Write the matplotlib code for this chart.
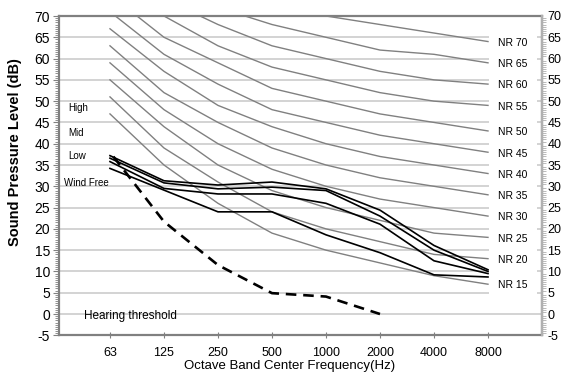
import matplotlib
matplotlib.use('Agg')
import matplotlib.pyplot as plt
import numpy as np

plt.rcParams['font.family'] = ['Liberation Sans', 'DejaVu Sans']
plt.rcParams['axes.unicode_minus'] = False

# octave bands
freqs = ['63', '125', '250', '500', '1000', '2000', '4000', '8000']

# NR reference curves (dB)
nr_labels = ['NR 15', 'NR 20', 'NR 25', 'NR 30', 'NR 35', 'NR 40',
             'NR 45', 'NR 50', 'NR 55', 'NR 60', 'NR 65', 'NR 70']
nr_curves = [
    [47, 35, 26, 19, 15, 12, 9, 7],
    [51, 39, 31, 24, 20, 17, 14, 13],
    [55, 44, 35, 29, 25, 22, 19, 18],
    [59, 48, 40, 34, 30, 27, 25, 23],
    [63, 52, 45, 39, 35, 32, 30, 28],
    [67, 57, 49, 44, 40, 37, 35, 33],
    [71, 61, 54, 48, 45, 42, 40, 38],
    [75, 65, 59, 53, 50, 47, 45, 43],
    [79, 70, 63, 58, 55, 52, 50, 49],
    [83, 74, 68, 63, 60, 57, 55, 54],
    [87, 78, 72, 68, 65, 62, 61, 59],
    [91, 83, 77, 73, 70, 68, 66, 64],
]

# measured fan speeds
high = [37.2, 31.3, 30.3, 31.0, 29.4, 24.4, 16.1, 10.4]
mid = [36.6, 30.8, 29.4, 29.8, 29.0, 23.0, 15.0, 10.0]
low = [35.8, 29.5, 28.2, 28.2, 26.0, 21.1, 12.5, 9.5]
wind_free = [34.2, 29.1, 24.0, 24.0, 18.6, 14.4, 9.2, 8.7]

# hearing threshold (63 .. 2000 Hz)
threshold = [38, 21.7, 11.5, 4.9, 4.1, 0]

x = np.arange(len(freqs))
spine_col = '#808080'

fig = plt.figure(figsize=(5.64, 3.78), dpi=100)
ax = fig.add_axes([59 / 564, 1 - 335.3 / 378, 483 / 564, 319.3 / 378])
ax.set_xlim(-0.944, 8.0)
ax.set_ylim(-5, 70)

# grid
for yv in np.arange(0, 70, 5):
    ax.axhline(yv, color='#c8c8c8', lw=1.1, zorder=0)

# NR curves + labels
for lab, vals in zip(nr_labels, nr_curves):
    ax.plot(x, vals, color='#808080', lw=1.0, zorder=2)
    ax.text(7.46, vals[-1] - 0.3, lab, fontsize=7.5, ha='center', va='center', zorder=4,
            bbox=dict(boxstyle='square,pad=0.9', fc='white', ec='none'))

for series in (high, mid, low, wind_free):
    ax.plot(x, series, color='black', lw=1.2, zorder=3)

ax.plot(x[:len(threshold)], threshold, color='black', lw=1.9,
        linestyle=(4.5, (4, 2.6)), zorder=3)

# labels in plot
ax.text(-0.78, 48.4, 'High', fontsize=7, va='center')
ax.text(-0.78, 42.5, 'Mid', fontsize=7, va='center')
ax.text(-0.78, 37.1, 'Low', fontsize=7, va='center')
ax.text(-0.85, 30.8, 'Wind Free', fontsize=7, va='center')
ax.text(-0.48, -0.5, 'Hearing threshold', fontsize=8.5, va='center')

# axes styling
ax.set_xticks(x)
ax.set_xticklabels(freqs, fontsize=9)
ax.set_yticks(np.arange(-5, 75, 5))
ax.tick_params(axis='y', labelsize=10, direction='out', length=4, color=spine_col, pad=2.5)
ax.set_yticks(np.arange(-5, 70.1, 0.5), minor=True)
ax.tick_params(axis='y', which='minor', direction='out', length=3, width=0.6, color=spine_col)
ax.tick_params(axis='x', direction='inout', length=5, color=spine_col, pad=6)
for s in ax.spines.values():
    s.set_color(spine_col)
    s.set_linewidth(1.6)

ax2 = ax.twinx()
ax2.set_ylim(-5, 70)
ax2.set_yticks(np.arange(-5, 75, 5))
ax2.set_yticks(np.arange(-5, 70.1, 0.5), minor=True)
ax2.tick_params(axis='y', labelsize=9, direction='in', length=0, pad=4)
ax2.tick_params(axis='y', which='minor', direction='out', length=3, width=0.6, color='#b0b0b0')
for s in ax2.spines.values():
    s.set_visible(False)
ax2.spines['right'].set_visible(True)
ax2.spines['right'].set_color('#b0b0b0')
ax2.spines['right'].set_linewidth(1.6)

fig.text(15 / 564, 1 - 152 / 378, 'Sound Pressure Level (dB)', rotation=90, fontsize=10.5,
         fontweight='bold', ha='center', va='center')
fig.text(290 / 564, 1 - 366 / 378, 'Octave Band Center Frequency(Hz)', fontsize=9.5,
         ha='center', va='center')

fig.savefig('out.png', dpi=100)
